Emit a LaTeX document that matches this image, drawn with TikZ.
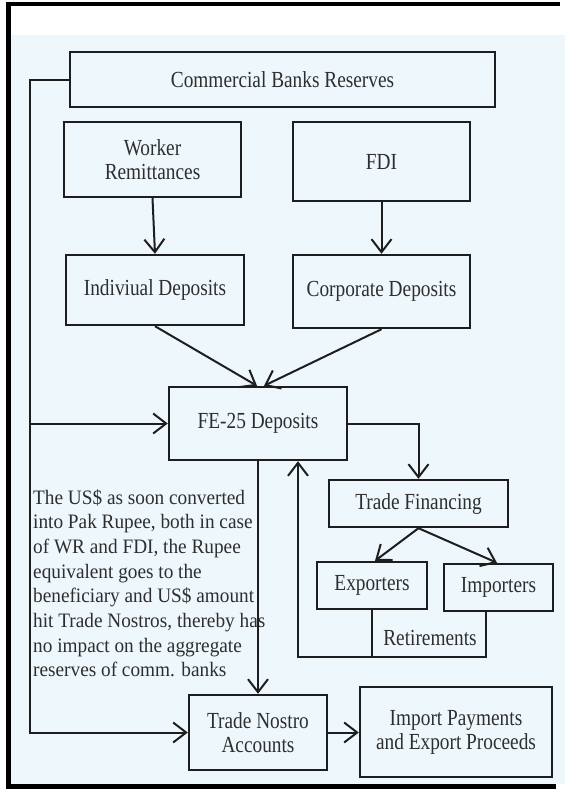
\documentclass[tikz,border=0pt]{standalone}
\usepackage{fontspec}
\setmainfont{Liberation Serif}
\newfontfamily\boxfont{Liberation Serif}[FakeStretch=0.84]
\newfontfamily\notefont{Liberation Serif}[FakeStretch=0.94]
\usetikzlibrary{arrows.meta,calc}
\definecolor{bgblue}{HTML}{EEF8FC}
\definecolor{ink}{HTML}{1E1E1E}
\definecolor{txt}{HTML}{2E2E2E}
\begin{document}
\begin{tikzpicture}[x=1pt,y=-1pt,
  box/.style={draw=ink, line width=2.4pt, fill=bgblue, inner sep=0pt, align=center,
    text=txt, font=\boxfont\fontsize{23}{24}\selectfont},
  conn/.style={draw=ink, line width=2pt},
  arr/.style={conn, -{Straight Barb[length=13pt,width=20pt]}},
  lbl/.style={inner sep=0pt, text=txt, font=\boxfont\fontsize{23}{24}\selectfont},
  notetext/.style={inner sep=0pt, align=left, text=txt, font=\notefont\fontsize{20.5}{24.7}\selectfont},
]
\useasboundingbox (0,0) rectangle (565,790);
% background and frame
\fill[white] (0,0) rectangle (565,790);
\fill[bgblue] (11,35) rectangle (565,784);
\fill[black] (6,2) rectangle (11,789);
\fill[black] (6,2) rectangle (560,6);
\fill[black] (6,784) rectangle (556,789);

% boxes
\node[box, minimum width=425pt, minimum height=55pt] (cbr) at (282.5,79.5) {Commercial Banks Reserves};
\node[box, minimum width=177pt, minimum height=75pt] (wr) at (152.5,159.5) {Worker\\Remittances};
\node[box, minimum width=177pt, minimum height=79pt] (fdi) at (381.5,161.5) {FDI};
\node[box, minimum width=178pt, minimum height=70pt] (ind) at (155,290) {Indiviual Deposits};
\node[box, minimum width=177pt, minimum height=73pt] (corp) at (381.5,291.5) {Corporate Deposits};
\node[box, minimum width=178pt, minimum height=73pt] (fe) at (258,423.5) {FE-25 Deposits};
\node[box, minimum width=179pt, minimum height=47pt] (tf) at (418.5,503.5) {Trade Financing};
\node[box, minimum width=110pt, minimum height=47pt] (exp) at (372,585.5) {Exporters};
\node[box, minimum width=109pt, minimum height=47pt] (imp) at (498.5,587.5) {Importers};
\node[box, minimum width=138pt, minimum height=75pt] (tn) at (258,732.5) {Trade Nostro\\Accounts};
\node[box, minimum width=192pt, minimum height=90pt] (ipe) at (456,732) {Import Payments\\and Export Proceeds};

% note text
\node[notetext, anchor=north west] (note) at (33,489) {The US\$ as soon converted\\into Pak Rupee, both in case\\of WR and FDI, the Rupee\\equivalent goes to the\\beneficiary and US\$ amount\\hit Trade Nostros, thereby has\\no impact on the aggregate\\reserves of comm. banks};

% helper coordinates
\coordinate (lft) at (30,0);
\coordinate (rbase) at (298,657);
\coordinate (impout) at ($(imp.south)+(-12.5,0)$);

% connectors
\draw[arr] (wr.south) -- (ind.north);
\draw[arr] (fdi.south) -- (corp.north);
\draw[arr] (ind.south) -- ($(fe.north)+(-1,0)$);
\draw[arr] (corp.south) -- ($(fe.north)+(6,0)$);
\draw[arr] (cbr.west) -- (cbr.west -| lft) -- (lft |- tn.west) -- (tn.west);
\draw[arr] (lft |- fe.west) -- (fe.west);
\draw[arr] (fe.east) -| (tf.north);
\draw[arr] (fe.south) -- (tn.north);
\draw[arr] (tf.south) -- ($(exp.north)+(3,0)$);
\draw[arr] (tf.south) -- ($(imp.north)+(-1.5,0)$);
\draw[arr] (impout) |- (rbase) -- (rbase |- fe.south);
\draw[conn] (exp.south) -- (exp.south |- rbase);
\draw[arr] (tn.east) -- (tn.east -| ipe.west);

\node[lbl] (ret) at (430,638) {Retirements};
\end{tikzpicture}
\end{document}
